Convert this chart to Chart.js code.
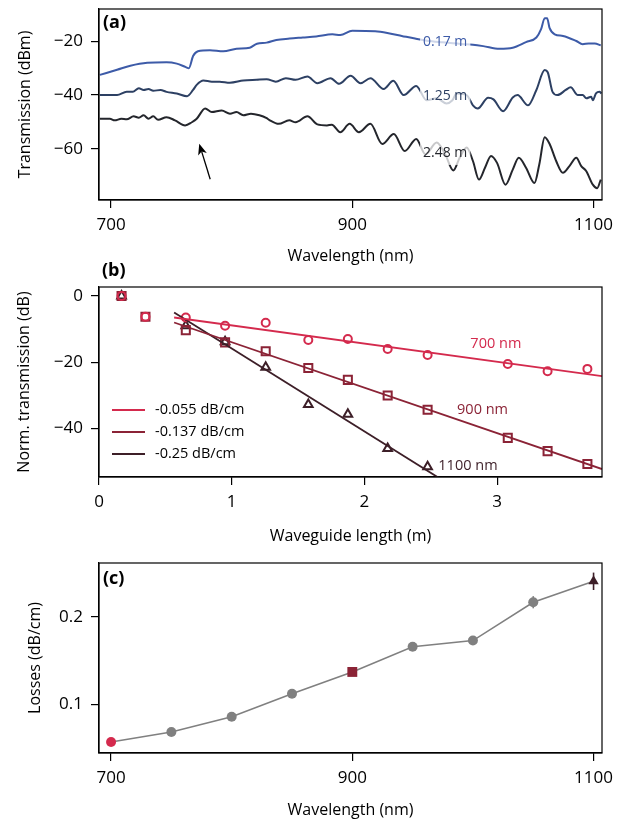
<!DOCTYPE html>
<html>
<head>
<meta charset="utf-8">
<script src="https://cdn.jsdelivr.net/npm/chart.js@4.4.1/dist/chart.umd.min.js"></script>
<style>
    html, body { margin: 0; padding: 0; background: #fff; }
    #wrap { position: relative; width: 621px; height: 824px; overflow: hidden; }
    canvas { position: absolute; left: 0; }
</style>
</head>
<body>
<div id="wrap">
    <canvas id="chart-a" width="621" height="270" style="top:0"></canvas>
    <canvas id="chart-b" width="621" height="300" style="top:250px"></canvas>
    <canvas id="chart-c" width="621" height="274" style="top:550px"></canvas>
</div>
<script>
'use strict';

// (a) transmission spectra, one array pair per waveguide length
const wl017 = [690.7, 705, 716, 730, 746, 754.5, 762, 764.5, 768, 772, 782, 793, 804, 815, 821, 829, 837, 848, 859, 870, 883.5, 890, 900, 919, 930, 941, 952, 962, 975, 990, 1000, 1008.5, 1022, 1033, 1044, 1052.6, 1056.5, 1059.5, 1061.5, 1063.5, 1067.8, 1074.7, 1085.7, 1091, 1096, 1101, 1106];
const tr017 = [-32.5, -30.6, -29.1, -28.0, -27.8, -28.3, -29.6, -30.0, -25.5, -23.7, -23.3, -23.7, -22.8, -22.4, -20.9, -20.5, -19.5, -19.0, -18.6, -18.2, -17.4, -17.7, -16.1, -16.3, -17.0, -18.0, -19.0, -19.8, -20.4, -21.0, -21.3, -21.8, -22.8, -22.4, -20.3, -18.6, -15.5, -11.4, -11.4, -15.0, -17.4, -18.0, -19.9, -21.1, -20.8, -20.8, -21.5];

const wl125 = [690.7, 705, 713, 718, 723, 727, 731, 735, 741, 746, 754.5, 763, 768, 771, 776.6, 783.5, 790, 798.5, 809.6, 820.6, 829, 836.6, 844.9, 853, 862.8, 871, 882, 889, 898.6, 906.8, 915, 926, 934, 942.6, 953, 961.6, 970, 978, 983, 986.5, 994.8, 1000, 1004, 1012.6, 1017, 1025, 1033, 1037, 1045.7, 1052.6, 1059.5, 1062, 1066, 1070, 1077, 1081, 1087, 1091, 1094, 1098, 1099.4, 1102, 1105, 1106.5];
const tr125 = [-40.0, -40.0, -38.8, -38.8, -37.5, -38.1, -37.7, -38.4, -38.1, -38.8, -39.4, -40.4, -38.1, -36.2, -34.6, -35.0, -35.0, -35.4, -34.6, -34.3, -34.1, -35.0, -33.7, -34.3, -33.1, -35.6, -33.7, -35.8, -32.8, -35.6, -33.7, -37.7, -34.7, -40.0, -36.6, -41.9, -41.2, -43.1, -41.9, -39.4, -40.0, -43.8, -45.0, -41.0, -41.6, -46.0, -40.9, -40.0, -43.8, -38.1, -30.7, -31.5, -38.8, -40.0, -38.1, -37.1, -40.0, -40.0, -41.2, -40.6, -41.9, -39.4, -38.8, -39.4];

const wl248 = [690.7, 699, 703, 708.5, 713, 718.7, 723, 727, 731, 735, 739, 746, 753, 761.4, 767, 771, 778, 783.5, 791.7, 798.6, 804, 809.6, 816, 823, 829, 831, 839, 847.7, 853, 862.8, 871, 879, 883, 890, 897.8, 905.5, 915, 924.8, 934.4, 943.5, 953, 960.6, 970, 977, 983.7, 989, 994.8, 1000, 1005, 1010, 1015, 1020, 1027, 1033, 1038, 1044, 1051, 1055, 1059.5, 1063.6, 1069, 1074.6, 1080, 1085.7, 1089.8, 1094, 1099.4, 1103, 1106];
const tr248 = [-48.8, -48.8, -49.4, -48.8, -49.0, -47.9, -48.4, -47.5, -48.8, -47.9, -49.2, -48.2, -49.4, -51.3, -50.1, -48.8, -45.0, -46.3, -45.7, -46.9, -46.3, -47.5, -46.9, -47.5, -48.6, -49.2, -50.7, -49.4, -50.1, -47.9, -50.9, -51.3, -51.0, -53.8, -50.7, -53.8, -50.7, -58.2, -54.5, -60.8, -56.3, -62.0, -57.6, -62.0, -68.0, -63.3, -59.5, -64.5, -71.4, -67.0, -62.6, -65.2, -73.3, -67.7, -63.3, -67.0, -72.7, -65.8, -55.7, -58.2, -64.5, -68.9, -66.4, -63.3, -66.4, -68.3, -73.3, -74.6, -71.4];

const lengthNamesA = ['0.17 m', '1.25 m', '2.48 m'];
const labelAtA = [[977, -20.4], [977, -40.4], [977, -61.5]];
const arrowA = [[782.2, -71.3], [773.1, -58.1]];
const wlTicks = [700, 900, 1100];
const trTicksA = [-20, -40, -60];

// (b) normalised transmission vs waveguide length
const len = [0.17, 0.35, 0.654, 0.95, 1.256, 1.577, 1.875, 2.175, 2.476, 3.08, 3.38, 3.68];
const norm700 = [0, -6.3, -6.5, -9.0, -8.1, -13.3, -13.0, -16.0, -17.8, -20.5, -22.7, -22.0];
const norm900 = [0, -6.3, -10.3, -14.0, -16.7, -21.7, -25.3, -30.0, -34.3, -42.8, -46.8, -50.7];
const len1100 = [0.17, 0.654, 0.95, 1.256, 1.577, 1.875, 2.175, 2.476];
const norm1100 = [0, -9.0, -13.8, -21.5, -32.7, -35.7, -46.0, -51.5];
const fitLen = [0.566, 3.79];
const fit700 = [-6.5, -24.2];
const fit900 = [-8.0, -52.2];
const fitLen1100 = [0.566, 2.6];
const fit1100 = [-5.0, -55.85];
const fitNames = ['-0.055 dB/cm', '-0.137 dB/cm', '-0.25 dB/cm'];
const wlNamesB = ['700 nm', '900 nm', '1100 nm'];
const wlLabelAtB = [[2.99, -14.4], [2.89, -34.5], [2.78, -51.1]];
const lenTicks = [0, 1, 2, 3];
const normTicks = [0, -20, -40];

// (c) losses vs wavelength
const wlC = [700, 750, 800, 850, 900, 950, 1000, 1050, 1100];
const lossC = [0.0567, 0.068, 0.0855, 0.112, 0.137, 0.166, 0.173, 0.217, 0.241];
const errC = [0, 0, 0, 0, 0, 0, 0, 0.007, 0.01];
const lossTicks = [0.1, 0.2];

const FONT = "'Open Sans', sans-serif";
const RED = '#d42a4d';
const MAROON = '#8b2336';
const DARK = '#3d1f28';
const GREY = '#808080';

const pts = function (xs, ys) {
    return xs.map(function (x, i) { return {x: x, y: ys[i]}; });
};

const axis = function (o) {
    return {
        type: 'linear',
        min: o.min,
        max: o.max,
        afterBuildTicks: function (s) {
            s.ticks = o.ticks.map(function (v) { return {value: v}; });
        },
        afterFit: function (s) {
            if (o.width) { s.width = o.width; s.paddingTop = 0; s.paddingBottom = 0; }
            if (o.height) { s.height = o.height; s.paddingLeft = 0; s.paddingRight = 0; }
        },
        grid: {drawOnChartArea: false, drawTicks: true, tickLength: 8, color: '#000', lineWidth: 1.2},
        border: {display: true, color: '#000', width: 1.2},
        ticks: {
            color: '#000',
            font: {family: FONT, size: 17},
            padding: o.pad,
            callback: function (v) { return String(v).replace('-', '\u2212'); }
        },
        title: {display: true, text: o.title, color: '#000', font: {family: FONT, size: 16}, padding: o.titlePad}
    };
};

// frame round the plot area, and the panel letter
const framePlugin = {
    id: 'frame',
    afterDatasetsDraw: function (chart, args, opts) {
        const a = chart.chartArea;
        const ctx = chart.ctx;
        ctx.save();
        ctx.strokeStyle = '#000';
        ctx.lineWidth = 1.2;
        ctx.strokeRect(a.left, a.top, a.right - a.left, a.bottom - a.top);
        ctx.fillStyle = '#000';
        ctx.font = 'bold 18px ' + FONT;
        ctx.textBaseline = 'middle';
        ctx.fillText(opts.letter, opts.x, opts.y);
        ctx.restore();
    }
};

// (a) length labels on a pale box, plus the arrow
const labelsA = {
    id: 'labelsA',
    afterDatasetsDraw: function (chart) {
        const ctx = chart.ctx;
        const sx = chart.scales.x, sy = chart.scales.y;
        ctx.save();
        ctx.font = '14px ' + FONT;
        ctx.textAlign = 'center';
        ctx.textBaseline = 'middle';
        lengthNamesA.forEach(function (name, i) {
            const x = sx.getPixelForValue(labelAtA[i][0]);
            const y = sy.getPixelForValue(labelAtA[i][1]);
            const w = ctx.measureText(name).width + 6;
            ctx.fillStyle = 'rgba(255,255,255,0.75)';
            ctx.fillRect(x - w / 2, y - 12, w, 24);
            ctx.fillStyle = chart.data.datasets[i].borderColor;
            ctx.fillText(name, x, y);
        });
        const x0 = sx.getPixelForValue(arrowA[0][0]), y0 = sy.getPixelForValue(arrowA[0][1]);
        const x1 = sx.getPixelForValue(arrowA[1][0]), y1 = sy.getPixelForValue(arrowA[1][1]);
        const ang = Math.atan2(y1 - y0, x1 - x0);
        ctx.strokeStyle = '#000';
        ctx.fillStyle = '#000';
        ctx.lineWidth = 1.3;
        ctx.beginPath();
        ctx.moveTo(x0, y0);
        ctx.lineTo(x1 - 8 * Math.cos(ang), y1 - 8 * Math.sin(ang));
        ctx.stroke();
        ctx.beginPath();
        ctx.moveTo(x1, y1);
        ctx.lineTo(x1 - 11 * Math.cos(ang) + 4.5 * Math.sin(ang), y1 - 11 * Math.sin(ang) - 4.5 * Math.cos(ang));
        ctx.lineTo(x1 - 8 * Math.cos(ang), y1 - 8 * Math.sin(ang));
        ctx.lineTo(x1 - 11 * Math.cos(ang) - 4.5 * Math.sin(ang), y1 - 11 * Math.sin(ang) + 4.5 * Math.cos(ang));
        ctx.closePath();
        ctx.fill();
        ctx.restore();
    }
};

// (b) legend for the fits and wavelength labels
const labelsB = {
    id: 'labelsB',
    afterDatasetsDraw: function (chart) {
        const ctx = chart.ctx;
        const sx = chart.scales.x, sy = chart.scales.y;
        const fits = chart.data.datasets.slice(0, 3);
        ctx.save();
        ctx.font = '14.5px ' + FONT;
        ctx.textBaseline = 'middle';
        fits.forEach(function (ds, i) {
            const y = 160 + i * 22;
            ctx.strokeStyle = ds.borderColor;
            ctx.lineWidth = 1.8;
            ctx.beginPath();
            ctx.moveTo(112, y);
            ctx.lineTo(145, y);
            ctx.stroke();
            ctx.fillStyle = '#000';
            ctx.textAlign = 'left';
            ctx.fillText(ds.label, 155, y);
            ctx.fillStyle = ds.borderColor;
            ctx.textAlign = 'center';
            ctx.fillText(wlNamesB[i], sx.getPixelForValue(wlLabelAtB[i][0]), sy.getPixelForValue(wlLabelAtB[i][1]));
        });
        ctx.restore();
    }
};

// (c) error bars
const errorBars = {
    id: 'errorBars',
    afterDatasetsDraw: function (chart) {
        const ctx = chart.ctx;
        const sx = chart.scales.x, sy = chart.scales.y;
        const colors = chart.data.datasets[0].pointBackgroundColor;
        ctx.save();
        ctx.lineWidth = 1.6;
        errC.forEach(function (e, i) {
            if (!e) return;
            const x = sx.getPixelForValue(wlC[i]);
            ctx.strokeStyle = colors[i];
            ctx.beginPath();
            ctx.moveTo(x, sy.getPixelForValue(lossC[i] - e));
            ctx.lineTo(x, sy.getPixelForValue(lossC[i] + e));
            ctx.stroke();
        });
        ctx.restore();
    }
};

const baseOptions = function (padTop, scales, frame) {
    return {
        responsive: false,
        animation: false,
        layout: {padding: {left: 0, right: 19, top: padTop, bottom: 0}},
        plugins: {legend: {display: false}, tooltip: {enabled: false}, frame: frame},
        scales: scales
    };
};

const spectrum = function (xs, ys, color) {
    return {
        data: pts(xs, ys),
        borderColor: color,
        borderWidth: 2,
        pointRadius: 0,
        cubicInterpolationMode: 'monotone',
        fill: false
    };
};

new Chart(document.querySelector('#chart-a'), {
    type: 'line',
    data: {
        datasets: [
            spectrum(wl017, tr017, '#3d5ba8'),
            spectrum(wl125, tr125, '#2d4063'),
            spectrum(wl248, tr248, '#24262c')
        ]
    },
    options: baseOptions(9, {
        x: axis({min: 690, max: 1107, ticks: wlTicks, height: 70, pad: 7, title: 'Wavelength (nm)', titlePad: {top: 0, bottom: 4}}),
        y: axis({min: -79, max: -8, ticks: trTicksA, width: 99, pad: 8, title: 'Transmission (dBm)', titlePad: {top: 16, bottom: 0}})
    }, {letter: '(a)', x: 103, y: 23}),
    plugins: [framePlugin, labelsA]
});

const fitLine = function (xs, ys, color, name) {
    return {type: 'line', label: name, data: pts(xs, ys), borderColor: color, borderWidth: 1.8, pointRadius: 0, showLine: true};
};
const markers = function (xs, ys, color, style, r) {
    return {
        type: 'scatter',
        data: pts(xs, ys),
        showLine: false,
        pointStyle: style,
        pointRadius: r,
        pointBorderWidth: 2,
        pointBorderColor: color,
        pointBackgroundColor: 'rgba(255,255,255,0)'
    };
};

new Chart(document.querySelector('#chart-b'), {
    type: 'scatter',
    data: {
        datasets: [
            fitLine(fitLen, fit700, RED, fitNames[0]),
            fitLine(fitLen, fit900, MAROON, fitNames[1]),
            fitLine(fitLen1100, fit1100, DARK, fitNames[2]),
            markers(len, norm700, RED, 'circle', 4),
            markers(len, norm900, MAROON, 'rect', 5.7),
            markers(len1100, norm1100, DARK, 'triangle', 5)
        ]
    },
    options: baseOptions(37, {
        x: axis({min: 0, max: 3.79, ticks: lenTicks, height: 73, pad: 7, title: 'Waveguide length (m)', titlePad: {top: 0, bottom: 4}}),
        y: axis({min: -54.6, max: 2.7, ticks: normTicks, width: 99, pad: 8, title: 'Norm. transmission (dB)', titlePad: {top: 15, bottom: 0}})
    }, {letter: '(b)', x: 102, y: 21}),
    plugins: [framePlugin, labelsB]
});

const styleC = wlC.map(function (w) { return w === 900 ? 'rect' : (w === 1100 ? 'triangle' : 'circle'); });
const colorC = wlC.map(function (w) { return w === 700 ? RED : (w === 900 ? MAROON : (w === 1100 ? DARK : GREY)); });
const radiusC = wlC.map(function (w) { return w === 900 ? 7 : (w === 1100 ? 6 : 5); });

new Chart(document.querySelector('#chart-c'), {
    type: 'line',
    data: {
        datasets: [{
            data: pts(wlC, lossC),
            borderColor: GREY,
            borderWidth: 1.6,
            pointStyle: styleC,
            pointRadius: radiusC,
            pointBorderWidth: 0,
            pointBackgroundColor: colorC,
            pointBorderColor: colorC
        }]
    },
    options: baseOptions(13, {
        x: axis({min: 690, max: 1107, ticks: wlTicks, height: 71, pad: 7, title: 'Wavelength (nm)', titlePad: {top: 0, bottom: 4}}),
        y: axis({min: 0.044, max: 0.262, ticks: lossTicks, width: 99, pad: 8, title: 'Losses (dB/cm)', titlePad: {top: 26, bottom: 0}})
    }, {letter: '(c)', x: 103, y: 29}),
    plugins: [framePlugin, errorBars]
});
</script>
</body>
</html>
